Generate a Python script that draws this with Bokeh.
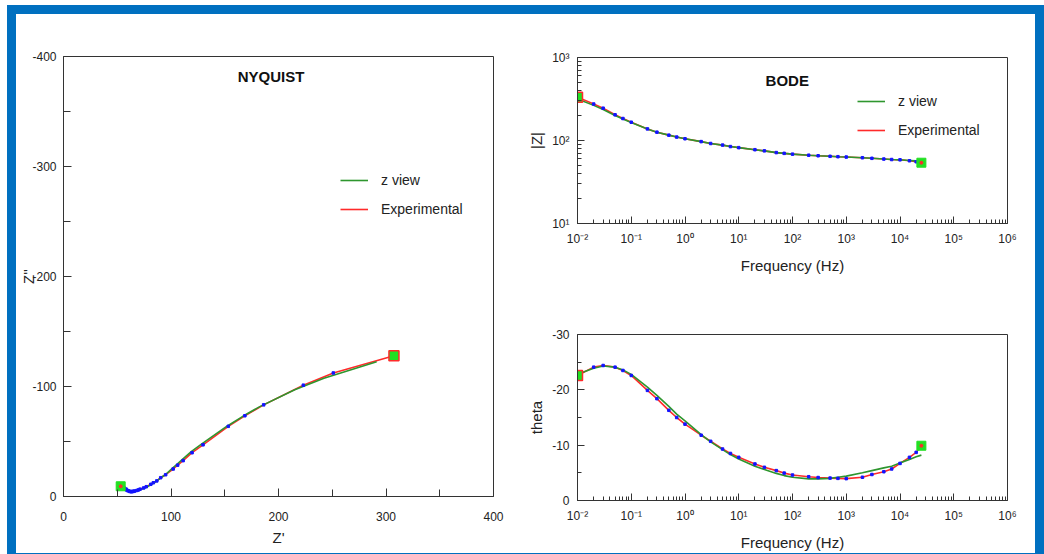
from bokeh.plotting import figure
from bokeh.models import (Range1d, FixedTicker, CustomJSTickFormatter, Label,
                          Legend, LegendItem)
from bokeh.layouts import row, column
from bokeh.embed import file_html
from bokeh.resources import INLINE

FONT = "Liberation Sans"
RED = "#ff2a2a"
GREEN = "#2e962e"
BLUE = "#1414ff"
MARK = "#22e022"
FRAME_BLUE = "#0070C0"

# ---------------- data ----------------
freq = [0.01, 0.02, 0.03, 0.05, 0.07, 0.1, 0.2, 0.3, 0.5, 0.7, 1, 2, 3, 5, 7,
        10, 20, 30, 50, 70, 100, 200, 300, 500, 700, 1000, 2000, 3000, 5000,
        7000, 10000, 15000, 20000, 25000]

zmod_exp = [333, 275, 245, 204, 184, 166, 138, 126, 116, 110, 105, 97, 92, 88,
            84.5, 82, 77.5, 75, 71.5, 70, 68.5, 66.5, 65.5, 64.5, 63.8, 63.2,
            62, 61, 59.8, 59, 58.5, 57, 55.5, 54]
zmod_fit = [316, 265, 236, 200, 182, 165, 138, 126, 116, 110, 105, 97, 92, 88,
            84.5, 82, 77.5, 75, 71.5, 70, 68.5, 66.5, 65.5, 64.5, 63.8, 63.2,
            62, 61, 59.8, 59, 58.5, 57.5, 56.8, 56]

theta_exp = [-22.6, -24.1, -24.4, -24.1, -23.5, -22.6, -19.9, -18.4, -16.3,
             -15.0, -13.8, -11.8, -10.7, -9.3, -8.5, -7.8, -6.6, -6.0, -5.4,
             -4.95, -4.6, -4.3, -4.15, -4.05, -4.0, -3.95, -4.2, -4.7, -5.2,
             -5.7, -6.7, -7.8, -8.7, -9.9]
theta_fit = [-22.8, -23.9, -24.3, -24.1, -23.6, -22.8, -20.5, -19.0, -17.0,
             -15.6, -14.4, -11.9, -10.6, -9.2, -8.3, -7.5, -6.2, -5.6, -4.9,
             -4.5, -4.2, -3.9, -3.9, -4.0, -4.2, -4.4, -5.0, -5.4, -5.9, -6.2,
             -6.8, -7.4, -7.9, -8.2]

zre_exp = [307.4, 251.0, 223.1, 186.2, 168.7, 153.3, 129.8, 119.6, 111.3, 106.2,
           102.0, 95.0, 90.4, 86.8, 83.6, 81.2, 77.0, 74.6, 71.2, 69.7, 68.3,
           66.3, 65.3, 64.3, 63.6, 63.0, 61.8, 60.8, 59.6, 58.7, 58.1, 56.5,
           54.9, 53.2]
zim_exp = [-128.0, -112.3, -101.2, -83.3, -73.4, -63.8, -47.0, -39.8, -32.6,
           -28.5, -25.0, -19.8, -17.1, -14.2, -12.5, -11.1, -8.9, -7.8, -6.7,
           -6.0, -5.5, -5.0, -4.7, -4.6, -4.5, -4.4, -4.5, -5.0, -5.4, -5.9,
           -6.8, -7.7, -8.4, -9.3]
zre_fit = [291.3, 242.3, 215.1, 182.6, 166.8, 152.1, 129.3, 119.1, 110.9, 106.0,
           101.7, 94.9, 90.4, 86.9, 83.6, 81.3, 77.1, 74.6, 71.2, 69.8, 68.3,
           66.3, 65.3, 64.3, 63.6, 63.0, 61.8, 60.7, 59.5, 58.7, 58.1, 57.0,
           56.3, 55.4]
zim_fit = [-122.5, -107.4, -97.1, -81.7, -72.9, -63.9, -48.3, -41.0, -33.9,
           -29.6, -26.1, -20.0, -16.9, -14.1, -12.2, -10.7, -8.4, -7.3, -6.1,
           -5.5, -5.0, -4.5, -4.5, -4.5, -4.7, -4.8, -5.4, -5.7, -6.1, -6.4,
           -6.9, -7.4, -7.8, -8.0]

nyq_xticks = [0, 100, 200, 300, 400]
nyq_yticks = [0, -100, -200, -300, -400]
theta_ticks = [0, -10, -20, -30]
decades_f = [1e-2, 1e-1, 1e0, 1e1, 1e2, 1e3, 1e4, 1e5, 1e6]
decades_z = [1e1, 1e2, 1e3]

LEGEND_LABELS = ["z view", "Experimental"]


def sup_formatter():
    return CustomJSTickFormatter(code="""
const s = {"-":"\u207b","0":"\u2070","1":"\u00b9","2":"\u00b2","3":"\u00b3","4":"\u2074",
           "5":"\u2075","6":"\u2076","7":"\u2077","8":"\u2078","9":"\u2079"};
const e = Math.round(Math.log10(tick));
return "10" + String(e).split("").map(c => s[c]).join("");
""")


def plain_formatter():
    return CustomJSTickFormatter(code="return String(Math.round(tick));")


def minor_log(decs):
    out = []
    for d in decs[:-1]:
        out += [m * d for m in range(2, 10)]
    return out


def style(p, major_in=8, minor_in=6):
    p.xgrid.visible = False
    p.ygrid.visible = False
    p.outline_line_color = "#333333"
    p.outline_line_width = 1
    p.background_fill_color = "white"
    p.border_fill_color = "white"
    for ax in p.axis:
        ax.axis_line_color = "#333333"
        ax.major_tick_line_color = "#333333"
        ax.minor_tick_line_color = "#333333"
        ax.major_tick_in = major_in
        ax.major_tick_out = 0
        ax.minor_tick_in = minor_in
        ax.minor_tick_out = 0
        ax.major_label_text_font = FONT
        ax.major_label_text_font_size = "12px"
        ax.major_label_text_color = "#222222"
        ax.axis_label_text_font = FONT
        ax.axis_label_text_font_size = "15px"
        ax.axis_label_text_font_style = "normal"
        ax.axis_label_text_color = "#222222"


def add_series(p, x_exp, y_exp, x_fit, y_fit):
    r_exp = p.line(x_exp, y_exp, line_color=RED, line_width=1.6)
    r_fit = p.line(x_fit, y_fit, line_color=GREEN, line_width=1.6)
    p.scatter(x_exp[1:-1], y_exp[1:-1], marker="square", size=2.5,
              fill_color=BLUE, line_color=BLUE)
    p.scatter([x_exp[0]], [y_exp[0]], marker="square", size=10,
              fill_color=MARK, line_color=RED, line_width=1.5)
    p.scatter([x_exp[-1]], [y_exp[-1]], marker="square", size=9,
              fill_color=MARK, line_color=MARK)
    p.scatter([x_exp[-1]], [y_exp[-1]], marker="circle", size=3,
              fill_color=RED, line_color=RED)
    r_dot = p.scatter([], [], marker="circle", size=2, fill_color="black",
                      line_color="black")
    return r_exp, r_fit, r_dot


def add_legend(p, r_exp, r_fit, r_dot, loc):
    leg = Legend(items=[LegendItem(label=LEGEND_LABELS[0], renderers=[r_fit]),
                        LegendItem(label=LEGEND_LABELS[1], renderers=[r_exp, r_dot])],
                 location=loc, padding=0, margin=0, spacing=9,
                 glyph_width=28, glyph_height=20, label_height=20,
                 label_standoff=13, border_line_alpha=0,
                 background_fill_alpha=0, label_text_font=FONT,
                 label_text_font_size="14px", label_text_color="#222222")
    p.add_layout(leg)


# ---------------- Nyquist ----------------
nyq = figure(frame_width=430, frame_height=440,
             x_range=Range1d(0, 400), y_range=Range1d(0, -400),
             output_backend="svg", toolbar_location=None,
             min_border_left=47, min_border_right=27,
             min_border_top=42, min_border_bottom=53)
style(nyq, 8, 7)
nyq.xaxis.ticker = FixedTicker(ticks=nyq_xticks, minor_ticks=[50, 150, 250, 350])
nyq.yaxis.ticker = FixedTicker(ticks=nyq_yticks, minor_ticks=[-50, -150, -250, -350])
nyq.xaxis.formatter = plain_formatter()
nyq.yaxis.formatter = plain_formatter()
nyq.xaxis.axis_label = "Z'"
nyq.yaxis.axis_label = "Z''"
nyq.xaxis.major_label_standoff = 15
nyq.xaxis.axis_label_standoff = 5
nyq.yaxis.major_label_standoff = 7
nyq.yaxis.axis_label_standoff = -8
ne, nf, nd = add_series(nyq, zre_exp, zim_exp, zre_fit, zim_fit)
add_legend(nyq, ne, nf, nd, (277, 277))
nyq.add_layout(Label(x=193, y=-382, text="NYQUIST", text_align="center",
                     text_baseline="middle", text_font=FONT,
                     text_font_size="15px", text_font_style="bold",
                     text_color="#111111"))

# ---------------- Bode |Z| ----------------
bode = figure(frame_width=430, frame_height=166, x_axis_type="log",
              y_axis_type="log", x_range=Range1d(1e-2, 1e6),
              y_range=Range1d(10, 1000), output_backend="svg",
              toolbar_location=None, min_border_left=57, min_border_right=28,
              min_border_top=43, min_border_bottom=67)
style(bode, 7, 4)
bode.xaxis.ticker = FixedTicker(ticks=decades_f, minor_ticks=minor_log(decades_f))
bode.yaxis.ticker = FixedTicker(ticks=decades_z, minor_ticks=minor_log(decades_z))
bode.xaxis.formatter = sup_formatter()
bode.yaxis.formatter = sup_formatter()
bode.xaxis.axis_label = "Frequency (Hz)"
bode.yaxis.axis_label = "|Z|"
bode.xaxis.major_label_standoff = 8
bode.xaxis.axis_label_standoff = 8
bode.yaxis.major_label_standoff = 8
bode.yaxis.axis_label_standoff = 4
be, bf, bd = add_series(bode, freq, zmod_exp, freq, zmod_fit)
add_legend(bode, be, bf, bd, (280, 83))
bode.add_layout(Label(x=80, y=525, text="BODE", text_align="center",
                      text_baseline="middle", text_font=FONT,
                      text_font_size="15px", text_font_style="bold",
                      text_color="#111111"))

# ---------------- Bode theta ----------------
theta = figure(frame_width=430, frame_height=166, x_axis_type="log",
               x_range=Range1d(1e-2, 1e6), y_range=Range1d(0, -30),
               output_backend="svg", toolbar_location=None,
               min_border_left=57, min_border_right=28,
               min_border_top=44, min_border_bottom=49)
style(theta, 7, 4)
theta.xaxis.ticker = FixedTicker(ticks=decades_f, minor_ticks=minor_log(decades_f))
theta.yaxis.ticker = FixedTicker(ticks=theta_ticks, minor_ticks=[-5, -15, -25])
theta.xaxis.formatter = sup_formatter()
theta.yaxis.formatter = plain_formatter()
theta.xaxis.axis_label = "Frequency (Hz)"
theta.yaxis.axis_label = "theta"
theta.xaxis.major_label_standoff = 8
theta.xaxis.axis_label_standoff = 8
theta.yaxis.major_label_standoff = 8
theta.yaxis.axis_label_standoff = 4
add_series(theta, freq, theta_exp, freq, theta_fit)

layout = row(nyq, column(bode, theta, spacing=0), spacing=0,
             margin=(5, 0, 0, 7),
             styles={"border-style": "solid", "border-color": FRAME_BLUE,
                     "border-width": "9px 9px 5px 9px",
                     "background-color": "white"})

open("out.html", "w").write(file_html(layout, INLINE))
